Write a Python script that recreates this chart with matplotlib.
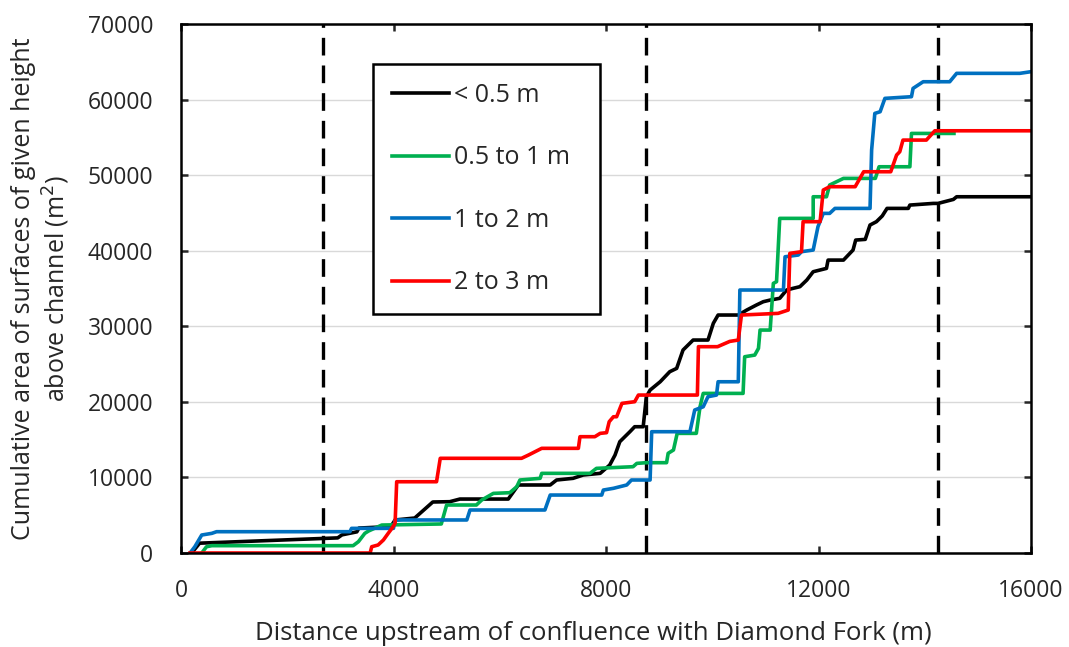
import numpy as np
import matplotlib
matplotlib.use("Agg")
import matplotlib.pyplot as plt

plt.rcParams['font.family'] = ['Open Sans', 'DejaVu Sans']

# distance upstream (m) and cumulative area (m2)
black_x = [200, 350, 2950, 3030, 3310, 3350, 3950, 4030, 4400, 4740, 5060, 5250, 6160, 6350,
           6950, 7070, 7380, 7570, 7890, 8070, 8170, 8260, 8450, 8540, 8700, 8760, 8830, 9020,
           9200, 9330, 9450, 9640, 9920, 10020, 10110, 10490, 10650, 10830, 10960, 11090, 11270,
           11400, 11520, 11650, 11780, 11900, 12150, 12180, 12470, 12650, 12700, 12880, 12970,
           13090, 13200, 13290, 13690, 13720, 14160, 14250, 14540, 14600, 16000]
black_y = [0, 1300, 2000, 2400, 2800, 3300, 3500, 4370, 4630, 6750, 6790, 7140, 7140, 9000,
           9000, 9660, 9880, 10320, 10540, 11640, 12960, 14730, 16050, 16710, 16710, 20680, 21560,
           22660, 23990, 24430, 26860, 28180, 28180, 30390, 31490, 31490, 32150, 32810, 33250,
           33470, 33700, 34800, 35020, 35240, 36120, 37220, 37660, 38760, 38760, 40090, 41410,
           41500, 43400, 43840, 44600, 45600, 45600, 46040, 46260, 46260, 46790, 47140, 47140]

green_x = [390, 480, 580, 3240, 3340, 3460, 3530, 3780, 4900, 5000, 5560, 5660, 5880, 6190,
           6320, 6380, 6760, 6790, 7700, 7820, 8510, 8580, 8760, 9140, 9170, 9270, 9340, 9700,
           9770, 9830, 10580, 10610, 10800, 10870, 10900, 11090, 11150, 11210, 11270, 11900,
           11900, 12150, 12210, 12470, 13070, 13140, 13720, 13750, 14550]
green_y = [0, 830, 970, 970, 1500, 2600, 2910, 3700, 3840, 6350, 6350, 7010, 7890, 7980,
           8770, 9660, 9880, 10540, 10540, 11200, 11420, 11860, 11950, 11950, 13190, 13630, 15830,
           15830, 19350, 21120, 21120, 25970, 26190, 27080, 29500, 29500, 35680, 35900, 44280,
           44280, 47140, 47140, 48690, 49570, 49570, 51110, 51110, 55520, 55520]

blue_x = [170, 260, 390, 580, 670, 3180, 3210, 4000, 4030, 5380, 5440, 6850, 6950, 7920, 7950,
          8140, 8390, 8480, 8830, 8860, 9580, 9670, 9830, 9920, 10080, 10110, 10490, 10520,
          11340, 11370, 11620, 11680, 11900, 11990, 12090, 12210, 12310, 12970, 13000, 13060,
          13160, 13250, 13750, 13780, 13970, 14470, 14600, 15790, 16000]
blue_y = [0, 830, 2380, 2600, 2820, 2820, 3260, 3260, 4370, 4370, 5690, 5690, 7670, 7670, 8330,
          8560, 9000, 9660, 9660, 16050, 16050, 18920, 19350, 20680, 20900, 22660, 22660, 34800,
          34800, 39200, 39430, 39870, 40090, 43180, 44940, 44940, 45600, 45600, 53320, 58170,
          58390, 60160, 60380, 61480, 62360, 62360, 63470, 63470, 63690]

red_x = [170, 3560, 3590, 3710, 3810, 3900, 3970, 4030, 4060, 4810, 4880, 6410, 6540, 6790,
         7480, 7510, 7790, 7890, 8010, 8060, 8140, 8200, 8300, 8540, 8610, 9720, 9740, 10100,
         10330, 10490, 10550, 11240, 11430, 11460, 11680, 11710, 12030, 12090, 12210, 12690,
         12850, 13360, 13470, 13530, 13590, 14030, 14190, 16000]
red_y = [0, 0, 830, 1060, 1720, 2600, 3260, 3930, 9430, 9430, 12530, 12530, 12960, 13850,
         13850, 15390, 15390, 15830, 15920, 17370, 18030, 18030, 19800, 20020, 20900, 20900,
         27300, 27300, 28000, 28180, 31490, 31710, 32150, 39650, 39870, 43840, 43840, 48030,
         48470, 48470, 50450, 50450, 52660, 53100, 54640, 54640, 55870, 55870]

reach_bounds = [2670, 8750, 14250]

fig = plt.figure(figsize=(10.69, 6.47), dpi=100)
ax = fig.add_axes([181/1069, 1 - 553/647, 850/1069, 529/647])

ax.set_xlim(0, 16000)
ax.set_ylim(0, 70000)
ax.set_xticks(np.arange(0, 16001, 4000))
ax.set_yticks(np.arange(0, 70001, 10000))
ax.yaxis.grid(True, color='#d9d9d9', linewidth=1.0)
ax.set_axisbelow(True)

for xb in reach_bounds:
    ax.axvline(xb, color='black', linewidth=2.4, dashes=(5.3, 3.0), zorder=1.5)

lw = 2.6
ax.plot(black_x, black_y, color='black', lw=lw, label='< 0.5 m', solid_joinstyle='round')
ax.plot(green_x, green_y, color='#00b050', lw=lw, label='0.5 to 1 m', solid_joinstyle='round')
ax.plot(blue_x, blue_y, color='#0070c0', lw=lw, label='1 to 2 m', solid_joinstyle='round')
ax.plot(red_x, red_y, color='#ff0000', lw=lw, label='2 to 3 m', solid_joinstyle='round')

for s in ax.spines.values():
    s.set_linewidth(1.8)
    s.set_color('black')
ax.tick_params(direction='in', length=5, width=1.8, top=True, right=True,
               labelsize=16.5, colors='#262626')
ax.tick_params(axis='y', pad=20)
ax.tick_params(axis='x', pad=19)

ax.set_xlabel('Distance upstream of confluence with Diamond Fork (m)', fontsize=18.5,
              color='#262626')
ax.xaxis.set_label_coords(0.485, -0.128)
ax.set_ylabel('Cumulative area of surfaces of given height\nabove channel (m$^2$)', fontsize=18,
              multialignment='center', linespacing=1.2, color='#262626')
ax.yaxis.set_label_coords(-0.128, 0.5)

leg = ax.legend(loc='upper left', bbox_to_anchor=(0.226, 0.0, 0.267, 0.924), mode='expand',
                fontsize=18, frameon=True, fancybox=False, edgecolor='black',
                labelspacing=1.5, handlelength=2.3, handletextpad=0.2, borderpad=0.75,
                borderaxespad=0)
leg.get_frame().set_linewidth(1.8)
leg.get_frame().set_alpha(1)
for t in leg.get_texts():
    t.set_color('#262626')

fig.savefig('out.png', dpi=100)
